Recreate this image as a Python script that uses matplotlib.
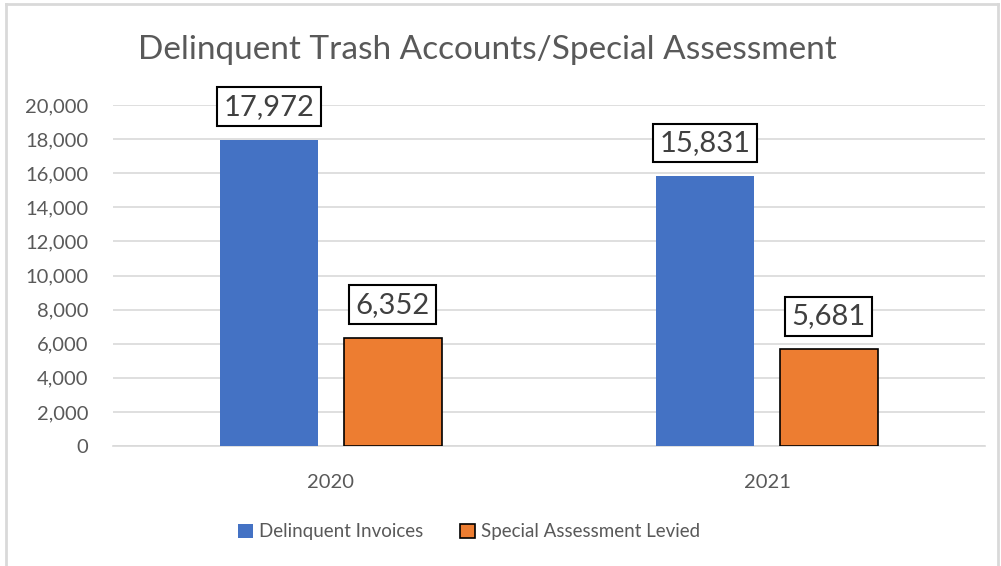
import numpy as np
import matplotlib.pyplot as plt
from matplotlib.lines import Line2D

plt.rcParams['font.family'] = ['Lato', 'DejaVu Sans']

# Data
years = ["2020", "2021"]
delinquent = [17972, 15831]
special = [6352, 5681]
series_names = ["Delinquent Invoices", "Special Assessment Levied"]

blue = "#4472c4"
orange = "#ed7d31"
grey_text = "#595959"
grid_col = "#d9d9d9"

fig = plt.figure(figsize=(10.01, 5.66), dpi=100)
ax = fig.add_axes([113 / 1001, 120 / 566, 872 / 1001, 341 / 566])

x = np.arange(len(years))
w = 0.225
off = 0.142
b1 = ax.bar(x - off, delinquent, w, color=blue, label=series_names[0], zorder=3)
b2 = ax.bar(x + off, special, w, color=orange, edgecolor="black", linewidth=1.2,
            label=series_names[1], zorder=3)

# Data labels in boxes
for bars in (b1, b2):
    for rect in bars:
        v = rect.get_height()
        ax.annotate(f"{v:,.0f}", (rect.get_x() + rect.get_width() / 2, v),
                    xytext=(0, 33), textcoords="offset pixels",
                    ha="center", va="center", fontsize=21, color="#404040",
                    bbox=dict(boxstyle="square,pad=0.22", fc="white", ec="black", lw=1.5),
                    zorder=5)

ax.set_xlim(-0.5, 1.5)
ax.set_ylim(0, 20000)
ax.set_yticks(np.arange(0, 20001, 2000))
ax.yaxis.set_major_formatter(plt.FuncFormatter(lambda v, p: f"{v:,.0f}"))
ax.set_xticks(x)
ax.set_xticklabels(years)
ax.tick_params(axis="both", length=0, labelsize=14.5, colors=grey_text)
ax.tick_params(axis="x", pad=20)
ax.tick_params(axis="y", pad=18)
ax.grid(axis="y", color=grid_col, linewidth=1.2, zorder=0)
for s in ["left", "right", "top"]:
    ax.spines[s].set_visible(False)
ax.spines["bottom"].set_color(grid_col)
ax.spines["bottom"].set_linewidth(1.2)

fig.text(487 / 1001, 1 - 50 / 566, "Delinquent Trash Accounts/Special Assessment",
         ha="center", va="center", fontsize=24, color=grey_text)

fig.legend(loc="center", bbox_to_anchor=(469 / 1001, 1 - 532 / 566), ncol=2,
           frameon=False, fontsize=13.5, labelcolor=grey_text,
           handlelength=0.8, handleheight=0.8, handletextpad=0.3, columnspacing=2.0)

# chart border
fig.add_artist(Line2D([6 / 1001, 6 / 1001], [0, 1 - 4 / 566], color=grid_col, lw=2))
fig.add_artist(Line2D([6 / 1001, 998 / 1001], [1 - 4 / 566, 1 - 4 / 566], color=grid_col, lw=2))
fig.add_artist(Line2D([998 / 1001, 998 / 1001], [0, 1 - 4 / 566], color=grid_col, lw=2))

fig.savefig("out.png", dpi=100)
